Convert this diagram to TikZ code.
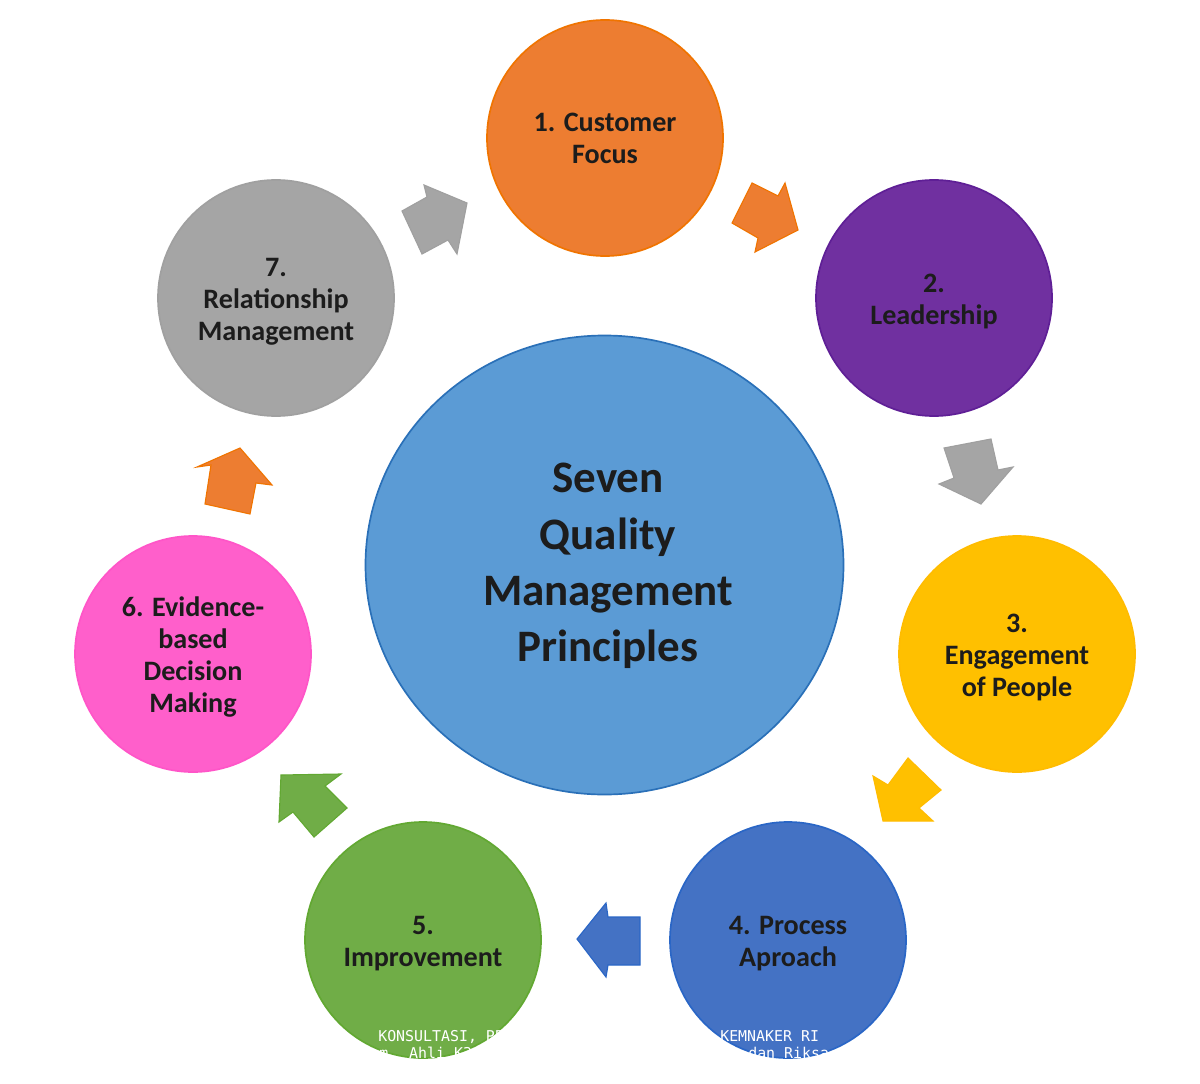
\documentclass[tikz,border=0pt]{standalone}
\usepackage{fontspec}
\setmainfont{Carlito}
\newfontfamily\wmfont{DejaVu Sans Mono}
\usetikzlibrary{shapes.geometric}
\definecolor{cOrange}{HTML}{ED7D31}\definecolor{eOrange}{HTML}{F07400}
\definecolor{cPurple}{HTML}{7030A0}\definecolor{ePurple}{HTML}{5F1F96}
\definecolor{cYellow}{HTML}{FFC000}\definecolor{eYellow}{HTML}{FFBC00}
\definecolor{cBlue}{HTML}{4472C4}\definecolor{eBlue}{HTML}{2A66C6}
\definecolor{cGreen}{HTML}{70AD47}\definecolor{eGreen}{HTML}{62A832}
\definecolor{cGrey}{HTML}{A5A5A5}\definecolor{eGrey}{HTML}{A0A0A0}
\definecolor{cPink}{HTML}{FF5FCB}\definecolor{ePink}{HTML}{FF55C8}
\definecolor{cSky}{HTML}{5B9BD5}\definecolor{eSky}{HTML}{2A70B8}
\definecolor{ink}{HTML}{1C1C1C}
\newcommand{\dropline}{\rule{0pt}{18pt}}
\tikzset{
  principle/.style={circle,minimum size=236*0.025cm,inner sep=0pt,line width=1.2pt,align=center,
    text=ink,font=\fontsize{20}{22.8}\selectfont\bfseries},
  hub/.style={ellipse,minimum width=478*0.025cm,minimum height=459*0.025cm,inner sep=0pt,line width=1.2pt,fill=cSky,draw=eSky},
  hubtext/.style={align=center,text=ink,font=\fontsize{32}{40}\selectfont\bfseries},
  blockarrow/.style={line width=0.8pt,line join=miter},
  watermark/.style={anchor=base west,inner sep=0pt,text=white,font=\wmfont\fontsize{10.6}{12}\selectfont}
}
\begin{document}
\begin{tikzpicture}[x=0.025cm,y=-0.025cm]
\useasboundingbox (0,0) rectangle (1200,1083);
\fill[white] (0,0) rectangle (1200,1083);
\node[hub] (hub) at (604.5,565) {};
\node[hubtext] (title) at (608,566) {Seven\\Quality\\Management\\Principles};
\node[principle,fill=cOrange,draw=eOrange] (p1) at (605,138) {1. Customer\\Focus};
\node[principle,fill=cPurple,draw=ePurple] (p2) at (934,298) {\dropline 2.\\Leadership};
\node[principle,fill=cYellow,draw=eYellow] (p3) at (1017,654) {\dropline 3.\\Engagement\\of People};
\node[principle,fill=cBlue,draw=eBlue] (p4) at (788,940) {\dropline 4. Process\\Aproach};
\node[principle,fill=cGreen,draw=eGreen] (p5) at (423,940) {\dropline 5.\\Improvement};
\node[principle,fill=cPink,draw=ePink] (p6) at (193,654) {\dropline 6. Evidence-\\based\\Decision\\Making};
\node[principle,fill=cGrey,draw=eGrey] (p7) at (276,298) {\dropline 7.\\Relationship\\Management};
% block arrows
\filldraw[blockarrow,fill=cOrange,draw=eOrange] (752,183)--(778,196)--(785,183)--(798,230)--(755,252)--(758,238)--(732,223)--cycle;
\filldraw[blockarrow,fill=cGrey,draw=eGrey] (944,448)--(991,439)--(998,470)--(1013,467)--(981,504)--(939,484)--(954,478)--cycle;
\filldraw[blockarrow,fill=cYellow,draw=eYellow] (908,758)--(941,790)--(919,808)--(933,821)--(883,821)--(873,776)--(888,785)--cycle;
\filldraw[blockarrow,fill=cBlue,draw=eBlue] (577,939)--(606,903)--(608,917)--(640,917)--(640,965)--(608,965)--(606,977)--cycle;
\filldraw[blockarrow,fill=cGreen,draw=eGreen] (281,775)--(341,774)--(325,786)--(347,808)--(314,837)--(293,812)--(279,822)--cycle;
\filldraw[blockarrow,fill=cOrange,draw=eOrange] (240,448)--(272,485)--(256,483)--(250,514)--(205,504)--(211,465)--(197,467)--cycle;
\filldraw[blockarrow,fill=cGrey,draw=eGrey] (424,185)--(427,197)--(402,211)--(422,254)--(448,240)--(457,254)--(467,203)--cycle;
% overprinted text
\node[watermark] (w1) at (378,1041) {KONSULTASI, PE};
\node[watermark] (w2) at (720,1041) {KEMNAKER RI};
\node[watermark] (w3) at (379,1058) {m. Ahli K3};
\node[watermark] (w4) at (748,1058) {dan Riksa};
\end{tikzpicture}
\end{document}
